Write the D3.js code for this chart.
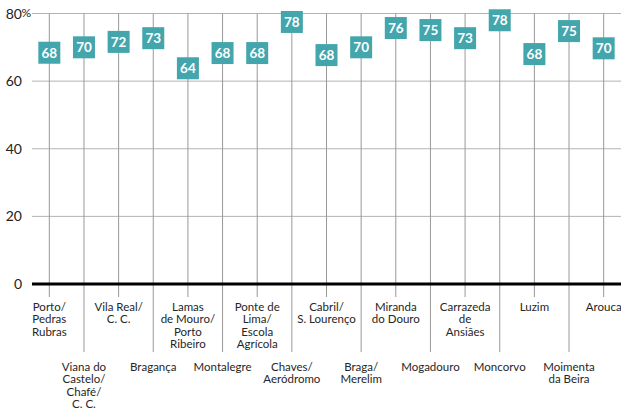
<!DOCTYPE html>
<html>
<head>
<meta charset="utf-8">
<script src="https://cdn.jsdelivr.net/npm/d3@7"></script>
<style>
  body { margin: 0; background: #fff; }
  text { font-family: Lato, "Open Sans", sans-serif; }
</style>
</head>
<body>
<div id="chart"></div>
<script>
var stations = [
    ["Porto/", "Pedras", "Rubras"],
    ["Viana do", "Castelo/", "Chafé/", "C. C."],
    ["Vila Real/", "C. C."],
    ["Bragança"],
    ["Lamas", "de Mouro/", "Porto", "Ribeiro"],
    ["Montalegre"],
    ["Ponte de", "Lima/", "Escola", "Agrícola"],
    ["Chaves/", "Aeródromo"],
    ["Cabril/", "S. Lourenço"],
    ["Braga/", "Merelim"],
    ["Miranda", "do Douro"],
    ["Mogadouro"],
    ["Carrazeda", "de", "Ansiães"],
    ["Moncorvo"],
    ["Luzim"],
    ["Moimenta", "da Beira"],
    ["Arouca"]
];
var values = [68.4, 70, 71.6, 72.7, 63.8, 68.3, 68.3, 77.5, 67.7, 70, 75.7, 75.1, 72.7, 78, 68, 74.8, 69.7];
var yTicks = [0, 20, 40, 60, 80];

var width = 621, height = 411;
var plotLeft = 32, plotRight = 621, plotTop = 13.5, plotZero = 284;

var svg = d3.select("#chart").append("svg")
    .attr("width", width)
    .attr("height", height);

var x = d3.scaleBand()
    .domain(d3.range(stations.length))
    .range([plotLeft, plotRight]);

var y = d3.scaleLinear()
    .domain([0, 80])
    .range([plotZero, plotTop]);

function cx(i) { return x(i) + x.bandwidth() / 2; }

// horizontal gridlines
svg.append("g").selectAll("line")
    .data(yTicks.filter(function(d) { return d > 0; }))
    .enter().append("line")
    .attr("x1", plotLeft).attr("x2", plotRight)
    .attr("y1", function(d) { return y(d); })
    .attr("y2", function(d) { return y(d); })
    .attr("stroke", "#b3b3b3")
    .attr("stroke-width", 1);

// y labels
svg.append("g").selectAll("text")
    .data(yTicks)
    .enter().append("text")
    .attr("x", 22)
    .attr("y", function(d) { return y(d) + 5; })
    .attr("text-anchor", "end")
    .attr("font-size", 14)
    .attr("fill", "#222")
    .text(function(d) { return d; });

svg.append("text")
    .attr("x", 21.5)
    .attr("y", y(80) + 3)
    .attr("font-size", 12)
    .attr("fill", "#222")
    .text("%");

// vertical drop lines (staggered)
svg.append("g").selectAll("line")
    .data(values)
    .enter().append("line")
    .attr("x1", function(d, i) { return cx(i); })
    .attr("x2", function(d, i) { return cx(i); })
    .attr("y1", y(80))
    .attr("y2", function(d, i) { return i % 2 === 0 ? 297 : 352; })
    .attr("stroke", "#999")
    .attr("stroke-width", 1);

// zero line
svg.append("line")
    .attr("x1", plotLeft).attr("x2", plotRight)
    .attr("y1", y(0)).attr("y2", y(0))
    .attr("stroke", "#000")
    .attr("stroke-width", 3);

// category labels
var labels = svg.append("g").selectAll("text")
    .data(stations)
    .enter().append("text")
    .attr("text-anchor", "middle")
    .attr("font-size", 11.5)
    .attr("fill", "#262626")
    .attr("transform", function(d, i) {
        return "translate(" + cx(i) + "," + (i % 2 === 0 ? 311 : 371) + ")";
    });

labels.selectAll("tspan")
    .data(function(d) { return d; })
    .enter().append("tspan")
    .attr("x", 0)
    .attr("y", function(d, j) { return j * 12.3; })
    .text(function(d) { return d; });

// markers
var marks = svg.append("g").selectAll("g")
    .data(values)
    .enter().append("g")
    .attr("transform", function(d, i) {
        return "translate(" + cx(i) + "," + y(d) + ")";
    });

marks.append("rect")
    .attr("x", -11).attr("y", -11)
    .attr("width", 22).attr("height", 22)
    .attr("fill", "#44a6ad");

marks.append("text")
    .attr("text-anchor", "middle")
    .attr("y", 4.8)
    .attr("font-size", 13.5)
    .attr("font-weight", "bold")
    .attr("fill", "#fff")
    .text(function(d) { return Math.round(d); });
</script>
</body>
</html>
